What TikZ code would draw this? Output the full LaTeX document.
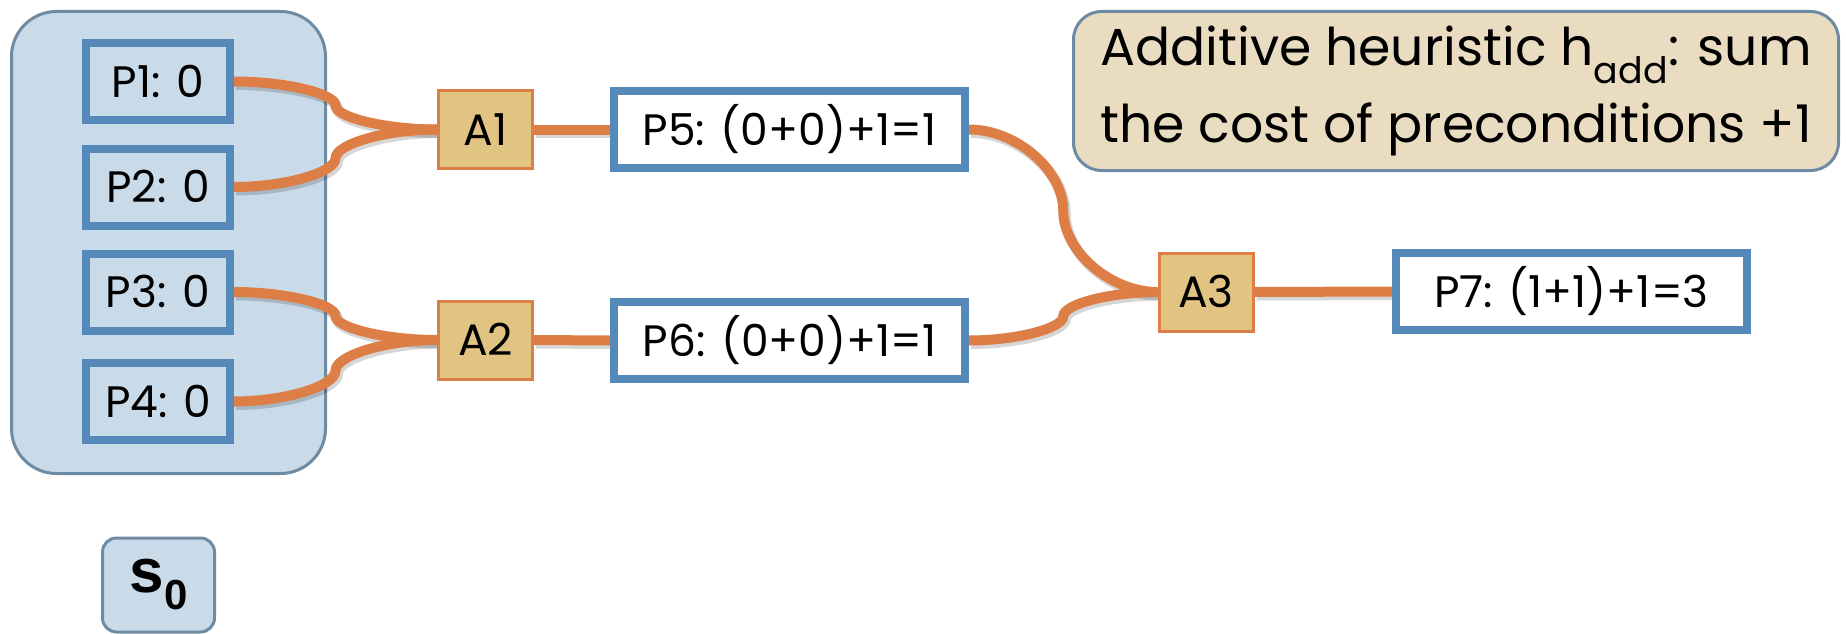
\documentclass[tikz,border=0pt]{standalone}
\usepackage{fontspec}
\setmainfont{Poppins}
\newfontfamily\arialfont{Liberation Sans}
\usetikzlibrary{calc}

\definecolor{statefill}{HTML}{C9DAE8}
\definecolor{stateedge}{HTML}{6E8BA4}
\definecolor{propedge}{HTML}{5489BA}
\definecolor{linkorange}{HTML}{DD7E46}
\definecolor{actfill}{HTML}{E2C482}
\definecolor{notefill}{HTML}{EADCC1}

\pgfdeclarelayer{bottom}
\pgfdeclarelayer{links}
\pgfsetlayers{bottom,links,main}

\tikzset{
  labelfont/.style={font=\fontsize{44}{44}\selectfont, text height=31pt, text depth=0pt},
  prop/.style={labelfont, draw=propedge, line width=8pt, inner sep=0pt,
    minimum width=144pt, minimum height=77pt},
  propinit/.style={prop},
  propnew/.style={prop, fill=white, minimum width=351pt},
  act/.style={labelfont, draw=linkorange, fill=actfill, line width=3pt, inner sep=0pt,
    minimum width=94pt, minimum height=78pt},
  link/.style={draw=linkorange, line width=10pt},
  linkshadow/.style={draw=black, opacity=0.16, line width=11pt, transform canvas={shift={(2pt,-3pt)}}},
  % S-shaped connector: horizontal at both ends, vertical at the midpoint
  sbend/.style={to path={
    let \p1=(\tikztostart), \p2=(\tikztotarget) in
    .. controls ({0.75*\x1+0.25*\x2},\y1) and ({0.5*\x1+0.5*\x2},{0.75*\y1+0.25*\y2})
    .. ({0.5*\x1+0.5*\x2},{0.5*\y1+0.5*\y2})
    .. controls ({0.5*\x1+0.5*\x2},{0.25*\y1+0.75*\y2}) and ({0.25*\x1+0.75*\x2},\y2)
    .. (\tikztotarget)}}
}

\begin{document}
\begin{tikzpicture}[x=1pt, y=-1pt]
\useasboundingbox (0,0) rectangle (1846,634);

% initial state container
\begin{pgfonlayer}{bottom}
\node[draw=stateedge, fill=statefill, line width=3pt, rounded corners=45pt,
      minimum width=314pt, minimum height=462pt] (state) at (168.5,242.5) {};
\end{pgfonlayer}

% propositions of the initial state
\node[propinit] (P1) at (158,81.5) {P1: 0};
\node[propinit] (P2) at (158,187) {P2: 0};
\node[propinit] (P3) at (158,292) {P3: 0};
\node[propinit] (P4) at (158,401.5) {P4: 0};

% actions
\node[act] (A1) at (485.5,129.5) {A1};
\node[act] (A2) at (485.5,340) {A2};
\node[act] (A3) at (1206,292) {A3};

% derived propositions
\node[propnew] (P5) at (789.5,129.5) {P5: (0+0)+1=1};
\node[propnew] (P6) at (789.5,340.5) {P6: (0+0)+1=1};
\node[propnew] (P7) at (1571.5,291.5) {P7: (1+1)+1=3};

% explanation
\node[draw=stateedge, fill=notefill, line width=3pt, rounded corners=28pt,
      minimum width=765pt, minimum height=159pt, align=center,
      font=\fontsize{52}{77}\selectfont] (note) at (1456,91)
  {Additive heuristic h\textsubscript{add}: sum\\the cost of preconditions +1};

% state label
\node[draw=stateedge, fill=statefill, line width=3pt, rounded corners=14pt,
      minimum width=112pt, minimum height=94pt, inner sep=0pt] (s0) at (158.5,585)
  {\arialfont\bfseries\fontsize{62}{62}\selectfont s\raisebox{-17pt}{\fontsize{42}{42}\selectfont 0}};

% connectors
\begin{pgfonlayer}{links}
\foreach \a/\b in {P1/A1, P2/A1, P3/A2, P4/A2, P5/A3, P6/A3} {
  \draw[linkshadow] (\a.east) to[sbend] (\b.west);
  \draw[link] (\a.east) to[sbend] (\b.west);
}
\foreach \a/\b in {A1/P5, A2/P6, A3/P7} {
  \draw[linkshadow] (\a.east) -- (\b.west);
  \draw[link] (\a.east) -- (\b.west);
}
\end{pgfonlayer}
\end{tikzpicture}
\end{document}
